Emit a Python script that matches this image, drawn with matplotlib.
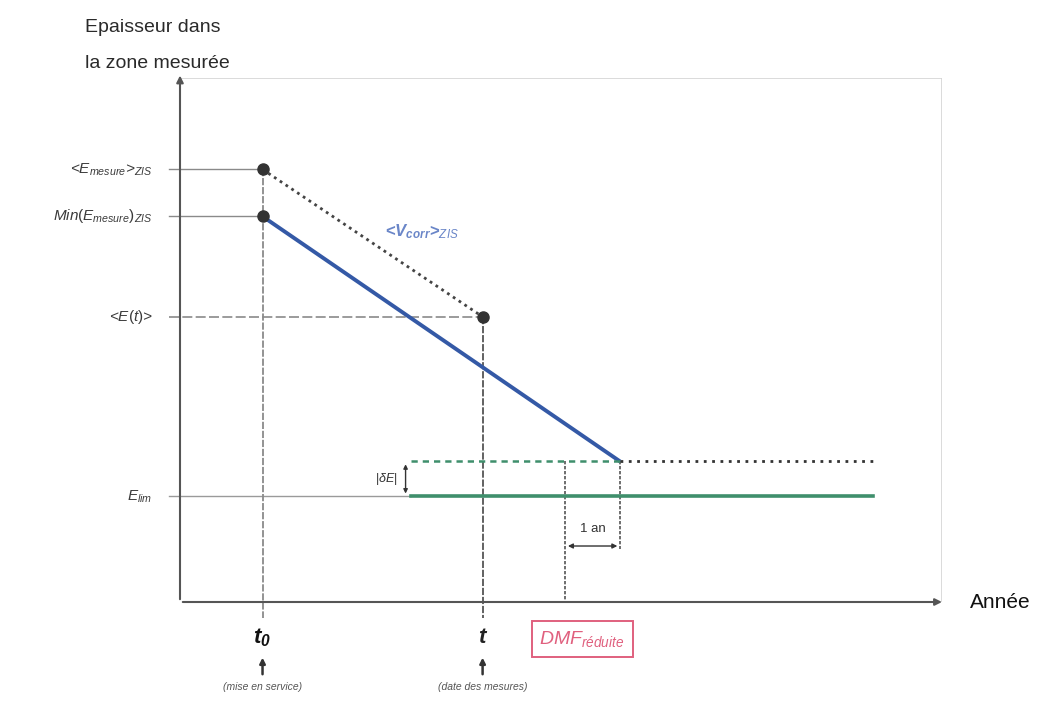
"""Schematic: thickness loss in the measured zone and reduced DMF."""
import matplotlib
matplotlib.use('Agg')
import matplotlib.pyplot as plt

plt.rcParams['font.family'] = ['Liberation Sans', 'DejaVu Sans']
plt.rcParams['mathtext.fontset'] = 'custom'
plt.rcParams['mathtext.rm'] = 'Liberation Sans'
plt.rcParams['mathtext.it'] = 'Liberation Sans:italic'
plt.rcParams['mathtext.bf'] = 'Liberation Sans:bold:italic'

# time positions (years)
T0 = 1.5
T_MES = 5.5
T_DMF = 7.0
T_END = 8.0
T_LIM_START = 4.2
T_LINE_END = 12.6
X_MAX = 13.85

# thicknesses
E_MEAN0 = 8.19
E_MIN0 = 7.30
E_T = 5.40
E_LIM = 2.0
DELTA_E = 0.66
Y_MAX = 9.92

Y_LABELS = [r'<$E_{mesure}$>$_{ZIS}$', r'$Min(E_{mesure})_{ZIS}$',
            r'<$E(t)$>', r'$E_{lim}$']
Y_VALUES = [E_MEAN0, E_MIN0, E_T, E_LIM]

DARK = '#333333'
GUIDE = '#8a8a8a'
BLUE = '#3459a6'
GREEN = '#3f8f6c'
RED = '#e0607e'


def main():
    fig = plt.figure(figsize=(10.42, 7.04), dpi=100)
    ax = fig.add_axes([180 / 1042, 102 / 704, 762 / 1042, 524 / 704])
    ax.set_xlim(0, X_MAX)
    ax.set_ylim(0, Y_MAX)
    for s in ax.spines.values():
        s.set_visible(False)
    ax.set_xticks([])
    ax.set_yticks([])

    # light frame
    ax.plot([0, X_MAX, X_MAX], [Y_MAX, Y_MAX, 0], color='#d4d4d4', lw=1.2)

    # axes with arrows
    ax.annotate('', xy=(X_MAX + 0.05, 0), xytext=(0, 0),
                arrowprops=dict(arrowstyle='-|>', color='#555555', lw=1.5,
                                mutation_scale=10), annotation_clip=False)
    ax.annotate('', xy=(0, Y_MAX + 0.1), xytext=(0, 0),
                arrowprops=dict(arrowstyle='-|>', color='#555555', lw=1.5,
                                mutation_scale=10), annotation_clip=False)

    # horizontal guides from the y axis
    ax.plot([-0.2, T0], [E_MEAN0, E_MEAN0], color=GUIDE, lw=1, clip_on=False)
    ax.plot([-0.2, T0], [E_MIN0, E_MIN0], color=GUIDE, lw=1, clip_on=False)
    ax.plot([-0.2, T_MES], [E_T, E_T], color=GUIDE, lw=1.2,
            ls=(0, (6, 2)), clip_on=False)
    ax.plot([-0.2, T_LIM_START], [E_LIM, E_LIM], color='#9a9a9a', lw=1,
            clip_on=False)

    # vertical guides
    ax.plot([T0, T0], [E_MEAN0, -0.3], color=GUIDE, lw=1.3,
            ls=(0, (4, 1)), clip_on=False)
    ax.plot([T_MES, T_MES], [E_T, -0.3], color='#555555', lw=1.3,
            ls=(0, (4, 1)), clip_on=False)
    ax.plot([T_DMF, T_DMF], [E_LIM + DELTA_E, 0], color='#555555', lw=1.2,
            ls=(0, (2, 1)))
    ax.plot([T_END, T_END], [E_LIM + DELTA_E, 1.0], color='#555555', lw=1.2,
            ls=(0, (2, 1)))

    # mean thickness decrease (dotted) and min thickness decrease (blue)
    ax.plot([T0, T_MES], [E_MEAN0, E_T], color='#444444', lw=2,
            ls=(0, (1, 1.5)))
    ax.plot([T0, T_END], [E_MIN0, E_LIM + DELTA_E], color=BLUE, lw=2.8,
            solid_capstyle='butt')
    ax.plot([T0, T0, T_MES], [E_MEAN0, E_MIN0, E_T], 'o', color=DARK,
            ms=8, zorder=5)

    # limit thickness and margin
    ax.plot([T_LIM_START, T_LINE_END], [E_LIM, E_LIM], color=GREEN, lw=2.6)
    ax.plot([T_LIM_START, T_END], [E_LIM + DELTA_E] * 2, color=GREEN, lw=1.8,
            ls=(0, (2.5, 2)))
    ax.plot([T_END, T_LINE_END], [E_LIM + DELTA_E] * 2, color='#333333',
            lw=2, ls=(0, (1, 2)))

    # |dE| arrow
    ax.annotate('', xy=(T_LIM_START - 0.1, E_LIM + DELTA_E),
                xytext=(T_LIM_START - 0.1, E_LIM),
                arrowprops=dict(arrowstyle='<|-|>', color=DARK, lw=1,
                                mutation_scale=6))
    ax.text(T_LIM_START - 0.25, E_LIM + DELTA_E / 2, r'|$\delta E$|',
            ha='right', va='center', fontsize=9, color=DARK)

    # 1 an arrow
    ax.annotate('', xy=(T_DMF, 1.06), xytext=(T_END, 1.06),
                arrowprops=dict(arrowstyle='<|-|>', color=DARK, lw=1,
                                mutation_scale=7))
    ax.text((T_DMF + T_END) / 2, 1.38, '1 an', ha='center', va='center',
            fontsize=9.5, color=DARK)

    # corrosion rate label
    ax.text(3.73, 7.02, r'<$\mathbf{V_{corr}}$>$_{ZIS}$', ha='left',
            va='center', fontsize=12, color='#6a86c8', fontweight='bold')

    # y-axis level labels
    for lab, val in zip(Y_LABELS, Y_VALUES):
        ax.text(-0.5, val, lab, ha='right', va='center', fontsize=11,
                color='#3a3a3a', style='italic')

    # x positions labels
    ax.text(T0, -0.68, r'$\mathbf{t_0}$', ha='center', va='center',
            fontsize=16, color='#111111')
    ax.text(T_MES, -0.68, r'$\mathbf{t}$', ha='center', va='center',
            fontsize=16, color='#222222')
    for xv in (T0, T_MES):
        ax.annotate('', xy=(xv, -1.0), xytext=(xv, -1.42),
                    arrowprops=dict(arrowstyle='-|>', color=DARK, lw=1.8,
                                    mutation_scale=8),
                    annotation_clip=False)
    ax.text(T0, -1.6, '(mise en service)', ha='center', va='center',
            fontsize=7.5, style='italic', color='#555555')
    ax.text(T_MES, -1.6, '(date des mesures)', ha='center', va='center',
            fontsize=7.5, style='italic', color='#555555')

    # reduced DMF box
    ax.text(7.31, -0.7, r'$DMF_{réduite}$', ha='center', va='center',
            fontsize=14, color=RED,
            bbox=dict(boxstyle='square,pad=0.4', fc='white', ec=RED,
                      lw=1.4))

    # axis titles
    ax.text(-1.73, 10.87, 'Epaisseur dans', ha='left', va='center',
            fontsize=14, color='#2a2a2a')
    ax.text(-1.73, 10.2, 'la zone mesurée', ha='left', va='center',
            fontsize=14, color='#2a2a2a')
    ax.text(14.35, 0, 'Année', ha='left', va='center', fontsize=15,
            color='#111111')

    fig.savefig('out.png', dpi=100)


if __name__ == '__main__':
    main()
